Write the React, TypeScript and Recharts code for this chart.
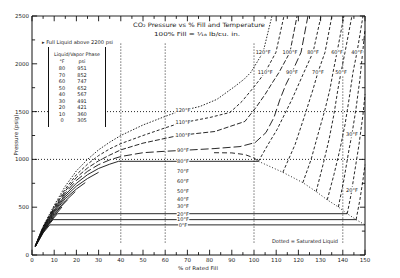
import { LineChart, Line, XAxis, YAxis, ReferenceLine, ReferenceDot } from 'recharts';

// all curves are [fill %, psig] pairs

// vapour side of each isotherm, up to the saturated vapour point
const vap0 = [[1.5, 87], [5, 230], [8, 315]];
const vap10 = [[1.5, 88], [5, 237], [7.5, 315], [9.5, 370]];
const vap20 = [[1.5, 89], [5, 244], [8, 340], [11.5, 432]];
const vap30 = [[1.5, 90], [5, 250], [10, 405], [13.5, 502]];
const vap40 = [[1.5, 91], [5, 257], [10, 420], [13, 505], [16, 577]];
const vap50 = [[1.5, 92], [5, 263], [10, 433], [15, 565], [19.5, 663]];
const vap60 = [[1.5, 93], [5, 270], [10, 447], [15, 590], [20, 690], [24, 757]];
const vap70 = [[1.5, 94], [5, 276], [10, 460], [15, 610], [20, 720], [25, 800], [30, 865]];
const vap80 = [[1.5, 95], [5, 282], [10, 472], [15, 630], [20, 750], [25, 840], [30, 905], [35, 950], [39, 980]];

// two-phase plateaus (only these are drawn on the original)
const plateauTemps = [0, 10, 20, 80];
const satTemps = [0, 10, 20, 30, 40, 50, 60, 70, 80];
const satPressure = [315, 370, 432, 502, 577, 663, 757, 865, 980];
const satVaporFill = [8, 9.5, 11.5, 13.5, 16, 19.5, 24, 30, 39];
const satLiquidFill = [150, 146, 142, 138, 133, 128, 122, 113, 102];

// liquid side, from the saturated liquid point upwards
const liq10 = [[146, 370], [147.7, 578], [149.1, 788], [150, 945]];
const liq20 = [[142, 432], [143.7, 630], [145.5, 893], [147.3, 1155], [149.1, 1470], [150, 1680]];
const liq30 = [[138, 502], [140.5, 788], [142.8, 1103], [144.1, 1260], [145.9, 1523], [147.7, 1838], [149.1, 2153], [150, 2363]];
const liq40 = [[133, 577], [136, 840], [138.7, 1103], [141, 1365], [142.8, 1628], [144.6, 1911], [146.4, 2121], [149.1, 2500]];
const liq50 = [[128, 663], [131.1, 945], [133.8, 1208], [136, 1470], [137.8, 1733], [139.2, 1911], [141, 2121], [144.1, 2500]];
const liq60 = [[122, 757], [125.7, 998], [128.8, 1260], [132, 1523], [134.2, 1733], [135.6, 1911], [137.4, 2121], [140.5, 2500]];
const liq70 = [[113, 865], [118.5, 1155], [123, 1470], [126.6, 1733], [128.8, 1911], [132, 2121], [135.1, 2500]];
const liq80 = [[102, 980], [106.3, 1155], [110.4, 1313], [117.1, 1628], [122.5, 1911], [126.6, 2121], [130.2, 2500]];

// supercritical isotherms, whole range
const sc90 = [[1.5, 96], [5, 288], [10, 485], [15, 650], [20, 780], [25, 875], [30, 945], [35, 995], [40, 1030], [50, 1070], [60, 1085], [66, 1092], [82, 1113], [93.7, 1134], [100.5, 1176], [105.4, 1281], [109, 1439], [111.7, 1628], [114.4, 1785], [117.1, 1911], [121.2, 2121], [124.3, 2500]];
const sc100 = [[1.5, 97], [5, 292], [10, 495], [15, 670], [20, 810], [25, 910], [30, 985], [35, 1045], [40, 1100], [50, 1170], [60, 1220], [66, 1250], [82.4, 1292], [95.9, 1397], [100.9, 1544], [105, 1680], [108.1, 1796], [111.3, 1911], [116.2, 2121], [119.4, 2500]];
const sc110 = [[1.5, 98], [5, 295], [10, 505], [15, 690], [20, 840], [25, 950], [30, 1040], [35, 1110], [40, 1165], [50, 1250], [60, 1330], [66, 1375], [80.2, 1439], [89.2, 1491], [94.6, 1607], [99.1, 1733], [102.3, 1827], [105, 1911], [109.9, 2121], [113.5, 2500]];
const sc120 = [[1.5, 100], [5, 300], [10, 520], [15, 720], [20, 880], [25, 1000], [30, 1100], [35, 1180], [40, 1250], [50, 1360], [60, 1450], [66, 1500], [75.7, 1554], [83.3, 1628], [91.4, 1764], [95.5, 1838], [98.6, 1911], [104.1, 2121], [108.1, 2500]];

// saturated liquid boundary
const domeTop = [[82, 1070], [90, 1068], [96, 1050], [100, 1015], [102, 980]];
const domeLiquid = [[102, 980], [113, 865], [122, 757], [128, 663], [133, 577], [138, 502], [142, 432], [146, 370], [150, 315]];

// curve labels [text, fill %, psig]
const midLabels = [
  ['120°F', 68, 1510], ['110°F', 68, 1385], ['100°F', 68, 1255], ['90°F', 68, 1095], ['80°F', 68, 980],
  ['70°F', 68, 872], ['60°F', 68, 767], ['50°F', 68, 672], ['40°F', 68, 588], ['30°F', 68, 515],
  ['20°F', 68, 432], ['10°F', 68, 370], ['0°F', 68, 315],
];
const topLabels = [
  ['120°F', 104.1, 2121], ['100°F', 116.2, 2121], ['80°F', 126.6, 2121], ['60°F', 137.4, 2121], ['40°F', 146.4, 2121],
  ['110°F', 105, 1911], ['90°F', 117.1, 1911], ['70°F', 128.8, 1911], ['50°F', 139.2, 1911],
  ['30°F', 144.1, 1260], ['20°F', 144.1, 683],
];

const tableTemps = ['80', '70', '60', '50', '40', '30', '20', '10', '0'];
const tablePsig = ['951', '852', '747', '652', '567', '491', '421', '360', '305'];

const xTicks = [0, 10, 20, 30, 40, 50, 60, 70, 80, 90, 100, 110, 120, 130, 140, 150];
const xMinor = [5, 15, 25, 35, 45, 55, 65, 75, 85, 95, 105, 115, 125, 135, 145];
const yTicks = [0, 500, 1000, 1500, 2000, 2500];
const yTicksRight = [500, 1000, 1500, 2000, 2500];
const yMinor = [250, 750, 1250, 1750, 2250];
const partialGrid = [40, 60, 100];
const fullGrid = [140];
const hGrid = [1000, 1500];

const FONT = 'DejaVu Sans';
const INK = '#111';
const pts = (a: number[][]) => a.map(([f, p]) => ({ f, p }));

const tag = (text: string) => (props: any) => {
  const { cx, cy } = props;
  const w = text.length * 2.9 + 1;
  return (
    <g>
      <rect x={cx - w / 2} y={cy - 3} width={w} height={6} fill="#fff" />
      <text x={cx} y={cy + 1.8} textAnchor="middle" fontSize={5} fontFamily={FONT} fill="#222">{text}</text>
    </g>
  );
};

export default function App() {
  const curves: { key: string; data: number[][]; dash?: string }[] = [
    { key: 'v0', data: vap0 }, { key: 'v10', data: vap10 }, { key: 'v20', data: vap20 },
    { key: 'v30', data: vap30 }, { key: 'v40', data: vap40 }, { key: 'v50', data: vap50 },
    { key: 'v60', data: vap60 }, { key: 'v70', data: vap70 }, { key: 'v80', data: vap80 },
    { key: 'l10', data: liq10, dash: '3 2' }, { key: 'l20', data: liq20, dash: '3 2' },
    { key: 'l30', data: liq30, dash: '3 2' }, { key: 'l40', data: liq40, dash: '3 2' },
    { key: 'l50', data: liq50, dash: '3 2' }, { key: 'l60', data: liq60, dash: '3 2' },
    { key: 'l70', data: liq70, dash: '3 2' }, { key: 'l80', data: liq80, dash: '3 2' },
    { key: 's90', data: sc90, dash: '8 3' }, { key: 's100', data: sc100, dash: '5 2' },
    { key: 's110', data: sc110, dash: '3 2' }, { key: 's120', data: sc120, dash: '1.5 1.5' },
    { key: 'dt', data: domeTop, dash: '5 3' }, { key: 'dl', data: domeLiquid, dash: '1 2' },
  ];
  plateauTemps.forEach((t) => {
    const i = satTemps.indexOf(t);
    curves.push({ key: 'p' + t, data: [[satVaporFill[i], satPressure[i]], [satLiquidFill[i], satPressure[i]]] });
  });

  const seg = (a: { x: number; y: number }, b: { x: number; y: number }, k: string, dash?: string) => (
    <ReferenceLine key={k} yAxisId="left" segment={[a, b]} stroke={INK} strokeWidth={0.9} strokeDasharray={dash} />
  );

  return (
    <div style={{ position: 'absolute', left: 0, top: 0, width: 400, height: 278, background: '#fff' }}>
      <LineChart width={400} height={278} margin={{ top: 16, right: 0, bottom: 11, left: 0 }}>
        <XAxis type="number" dataKey="f" domain={[0, 150]} ticks={xTicks} interval={0} tickLine={false} tickSize={0} tickMargin={3}
          height={12} stroke={INK} tick={{ fontSize: 5.5, fill: '#222', fontFamily: FONT }} />
        <YAxis yAxisId="left" type="number" dataKey="p" domain={[0, 2500]} ticks={yTicks} interval={0} tickLine={false} tickSize={0}
          tickMargin={3} width={32} stroke={INK} tick={{ fontSize: 5.5, fill: '#222', fontFamily: FONT }} />
        <YAxis yAxisId="right" orientation="right" type="number" domain={[0, 2500]} ticks={yTicksRight} interval={0} tickLine={false}
          tickSize={0} tickMargin={4} width={35} stroke={INK} tick={{ fontSize: 5.5, fill: '#222', fontFamily: FONT }} />

        {hGrid.map((y) => seg({ x: 0, y }, { x: 150, y }, 'h' + y, '1 2'))}
        {partialGrid.map((x) => seg({ x, y: 130 }, { x, y: 2230 }, 'g' + x, '1 2'))}
        {fullGrid.map((x) => seg({ x, y: 130 }, { x, y: 2500 }, 'fg' + x, '1 2'))}
        {seg({ x: 0, y: 2500 }, { x: 150, y: 2500 }, 'top')}

        {xTicks.map((x) => seg({ x, y: 0 }, { x, y: 55 }, 'xb' + x))}
        {xTicks.map((x) => seg({ x, y: 2500 }, { x, y: 2445 }, 'xt' + x))}
        {xMinor.map((x) => seg({ x, y: 0 }, { x, y: 30 }, 'xbm' + x))}
        {xMinor.map((x) => seg({ x, y: 2500 }, { x, y: 2470 }, 'xtm' + x))}
        {yTicks.map((y) => seg({ x: 0, y }, { x: 2.3, y }, 'yl' + y))}
        {yTicks.map((y) => seg({ x: 150, y }, { x: 147.7, y }, 'yr' + y))}
        {yMinor.map((y) => seg({ x: 0, y }, { x: 1.4, y }, 'ylm' + y))}
        {yMinor.map((y) => seg({ x: 150, y }, { x: 148.6, y }, 'yrm' + y))}

        {curves.map((c) => (
          <Line key={c.key} yAxisId="left" data={pts(c.data)} dataKey="p" type="linear" stroke={INK} strokeWidth={0.9}
            strokeDasharray={c.dash} dot={false} activeDot={false} isAnimationActive={false} />
        ))}

        {[...midLabels, ...topLabels].map(([t, f, p], i) => (
          <ReferenceDot key={'lb' + i} yAxisId="left" x={f as number} y={p as number} r={0} shape={tag(t as string)} />
        ))}
      </LineChart>

      <svg width={400} height={278} style={{ position: 'absolute', left: 0, top: 0, pointerEvents: 'none' }} fontFamily={FONT} fill="#222">
        <text x={199} y={27} textAnchor="middle" fontSize={6} textLength={132} lengthAdjust="spacingAndGlyphs">CO₂ Pressure vs % Fill and Temperature</text>
        <text x={197} y={36} textAnchor="middle" fontSize={5.5} textLength={86} lengthAdjust="spacingAndGlyphs">100% Fill = ¹⁄₁₈ lb/cu. in.</text>
        <text x={42} y={44} fontSize={5} textLength={71} lengthAdjust="spacingAndGlyphs">▸ Full Liquid above 2200 psi</text>
        <rect x={48} y={47} width={57} height={80} fill="#fff" />
        <line x1={48.5} y1={47} x2={48.5} y2={127} stroke={INK} />
        <line x1={105.5} y1={47} x2={105.5} y2={127} stroke={INK} />
        <text x={77} y={56} textAnchor="middle" fontSize={4.8} textLength={46} lengthAdjust="spacingAndGlyphs">Liquid/Vapor Phase</text>
        <text x={62} y={63} textAnchor="middle" fontSize={4.8}>°F</text>
        <text x={82} y={63} textAnchor="middle" fontSize={4.8}>psi</text>
        {tableTemps.map((t, i) => (
          <g key={t}>
            <text x={62} y={70 + i * 6.5} textAnchor="middle" fontSize={5}>{t}</text>
            <text x={82} y={70 + i * 6.5} textAnchor="middle" fontSize={5}>{tablePsig[i]}</text>
          </g>
        ))}
        <text x={305} y={243} textAnchor="middle" fontSize={5} textLength={66} lengthAdjust="spacingAndGlyphs">Dotted = Saturated Liquid</text>
        <text x={198} y={270} textAnchor="middle" fontSize={5} textLength={40} lengthAdjust="spacingAndGlyphs">% of Rated Fill</text>
        <text x={18} y={135} textAnchor="middle" fontSize={5.5} transform="rotate(-90 18 135)">Pressure (psig)</text>
      </svg>
    </div>
  );
}
